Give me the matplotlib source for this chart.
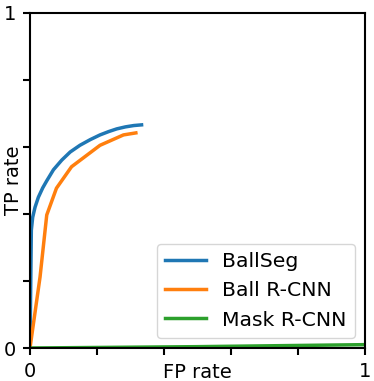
import matplotlib
matplotlib.use("Agg")
import matplotlib.pyplot as plt

ticks = [0, 0.2, 0.4, 0.6, 0.8, 1.0]
tick_labels = ["0", "", "", "", "", "1"]

ballseg_fp = [0, 0.004, 0.008, 0.015, 0.025, 0.038, 0.05, 0.07, 0.095, 0.12,
              0.149, 0.18, 0.209, 0.235, 0.259, 0.285, 0.31, 0.333]
ballseg_tp = [0, 0.352, 0.39, 0.42, 0.45, 0.478, 0.499, 0.532, 0.561, 0.585,
              0.605, 0.622, 0.636, 0.646, 0.654, 0.66, 0.664, 0.666]

ballrcnn_fp = [0, 0.03, 0.05, 0.079, 0.124, 0.209, 0.279, 0.316]
ballrcnn_tp = [0, 0.212, 0.397, 0.477, 0.541, 0.605, 0.636, 0.642]

maskrcnn_fp = [0, 0.5, 1.0]
maskrcnn_tp = [0, 0.004, 0.01]

plt.rcParams["font.size"] = 14

fig = plt.figure(figsize=(3.74, 3.81), dpi=100)
ax = fig.add_axes([0.0802, 0.0866, 0.8958, 0.8794])

ax.plot(ballseg_fp, ballseg_tp, lw=2.5, label="BallSeg")
ax.plot(ballrcnn_fp, ballrcnn_tp, lw=2.5, label="Ball R-CNN")
ax.plot(maskrcnn_fp, maskrcnn_tp, lw=2.5, label="Mask R-CNN")

ax.set_xlim(0, 1)
ax.set_ylim(0, 1)
ax.set_xticks(ticks)
ax.set_xticklabels(tick_labels)
ax.set_yticks(ticks)
ax.set_yticklabels(tick_labels)
ax.tick_params(width=1.5, length=5, labelsize=14, pad=5)
for s in ax.spines.values():
    s.set_linewidth(1.5)

ax.set_xlabel("FP rate", labelpad=-13)
ax.set_ylabel("TP rate", labelpad=-14)
ax.legend(loc="lower right", fontsize=14.7)

fig.savefig("out.png", dpi=100)
